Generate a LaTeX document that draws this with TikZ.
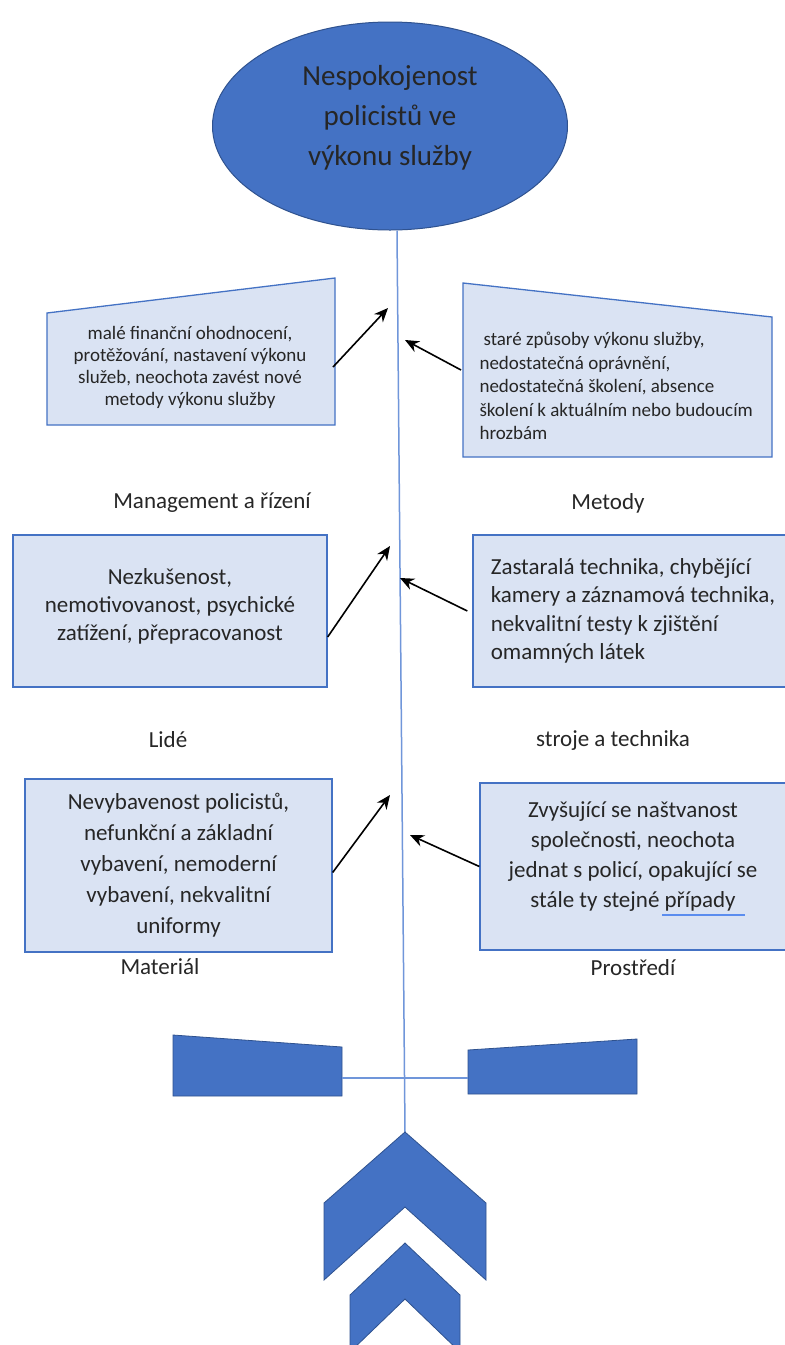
\documentclass[tikz,border=0pt]{standalone}
\usepackage{fontspec}
\setmainfont{Carlito}
\usetikzlibrary{shapes.geometric, arrows, arrows.meta}
\usetikzlibrary{positioning}
\definecolor{ofblue}{HTML}{4472C4}
\definecolor{ofdark}{HTML}{2F528F}
\definecolor{ofpale}{HTML}{DAE3F3}
\definecolor{ofline}{HTML}{7096DA}
\definecolor{spell}{HTML}{5B8DEF}
\tikzstyle{goal} = [ellipse, fill=ofblue, draw=ofdark, line width=1pt, minimum width=355pt, minimum height=208pt]
\tikzstyle{cause} = [rectangle, fill=ofpale, draw=ofblue, line width=1.3pt]
\tikzstyle{txt} = [align=center, text=black!85]
\tikzstyle{lbl} = [text=black!85, font=\fontsize{23}{27}\selectfont]
\tikzstyle{arrow} = [line width=1.6pt,->,>={Stealth[length=14pt,width=12pt]}]
\tikzstyle{spine} = [draw=ofline, line width=1.5pt]
\tikzstyle{fin} = [fill=ofblue, draw=ofdark, line width=0.8pt]

\begin{document}
\begin{tikzpicture}[x=1pt,y=-1pt]
\useasboundingbox (0,0) rectangle (785,1345);
\fill[white] (0,0) rectangle (785,1345);

\node[goal] (goal) at (390,126) {};
\node[txt, font=\fontsize{29}{40}\selectfont] (goaltext) at (390,118) {Nespokojenost\\policistů ve\\výkonu služby};

\coordinate (tip) at (405,1132);
\draw[spine] ([xshift=7pt]goal.south) -- (tip);

\draw[cause] (47,313) -- (335,278) -- (335,425) -- (47,425) -- cycle;
\node[txt, font=\fontsize{19}{22}\selectfont] (mgmt) at (190,367) {malé finanční ohodnocení,\\protěžování, nastavení výkonu\\služeb, neochota zavést nové\\metody výkonu služby};

\draw[cause] (463,283) -- (772,317) -- (772,457) -- (463,457) -- cycle;
\node[txt, align=left, anchor=west, font=\fontsize{19}{23.5}\selectfont] (meth) at (476,386) {\hspace{4pt}staré způsoby výkonu služby,\\nedostatečná oprávnění,\\nedostatečná školení, absence\\školení k aktuálním nebo budoucím\\hrozbám};

\node[cause, minimum width=314pt, minimum height=152pt] (people) at (170,611) {};
\node[txt, font=\fontsize{23}{28}\selectfont] (peopletext) at (170,606) {Nezkušenost,\\nemotivovanost, psychické\\zatížení, přepracovanost};
\node[cause, txt, align=left, minimum width=320pt, minimum height=152pt, font=\fontsize{23}{28.3}\selectfont] (tech) at (633,611) {Zastaralá technika, chybějící\\kamery a záznamová technika,\\nekvalitní testy k zjištění\\omamných látek};
\node[cause, txt, minimum width=307pt, minimum height=173pt, font=\fontsize{23}{31}\selectfont] (matl) at (178.5,865.5) {Nevybavenost policistů,\\nefunkční a základní\\vybavení, nemoderní\\vybavení, nekvalitní\\uniformy};
\node[cause, minimum width=306pt, minimum height=167pt] (env) at (633,866.5) {};
\node[txt, font=\fontsize{23}{30}\selectfont] (envtext) at (633,857) {Zvyšující se naštvanost\\společnosti, neochota\\jednat s policí, opakující se\\stále ty stejné případy};
\draw[spell, line width=2.5pt] (662,915) -- (745,915);

\node[lbl] (lmgmt) at (212,503) {Management a řízení};
\node[lbl] (lmeth) at (608,503) {Metody};
\node[lbl] (lpeople) at (168,740) {Lidé};
\node[lbl] (ltech) at (613,740) {stroje a technika};
\node[lbl] (lmatl) at (160,967) {Materiál};
\node[lbl] (lenv) at (633,968) {Prostředí};

\coordinate (t1) at (333,367);
\coordinate (h1) at (388,308);
\coordinate (t2) at (461,370);
\coordinate (h2) at (405,340);
\coordinate (h3) at (390,546);
\coordinate (h4) at (400,578);
\coordinate (h5) at (390,795);
\coordinate (h6) at (410,835);
\draw[arrow] (t1) -- (h1);
\draw[arrow] (t2) -- (h2);
\draw[arrow] ([yshift=-26pt]people.east) -- (h3);
\draw[arrow] ([xshift=-5pt]tech.west) -- (h4);
\draw[arrow] ([yshift=-7pt]matl.east) -- (h5);
\draw[arrow] (env.west) -- (h6);

\draw[fin] (173,1035) -- (342,1047) -- (342,1096) -- (173,1096) -- cycle;
\draw[fin] (468,1050) -- (637,1039) -- (637,1094) -- (468,1094) -- cycle;
\draw[spine] (342,1078) -- (468,1078);

\draw[fin] (tip) -- (486,1203) -- (486,1280) -- (405,1207) -- (324,1280) -- (324,1203) -- cycle;
\draw[fin] (405,1243) -- (460,1295) -- (460,1352) -- (405,1299) -- (350,1352) -- (350,1295) -- cycle;
\end{tikzpicture}
\end{document}
